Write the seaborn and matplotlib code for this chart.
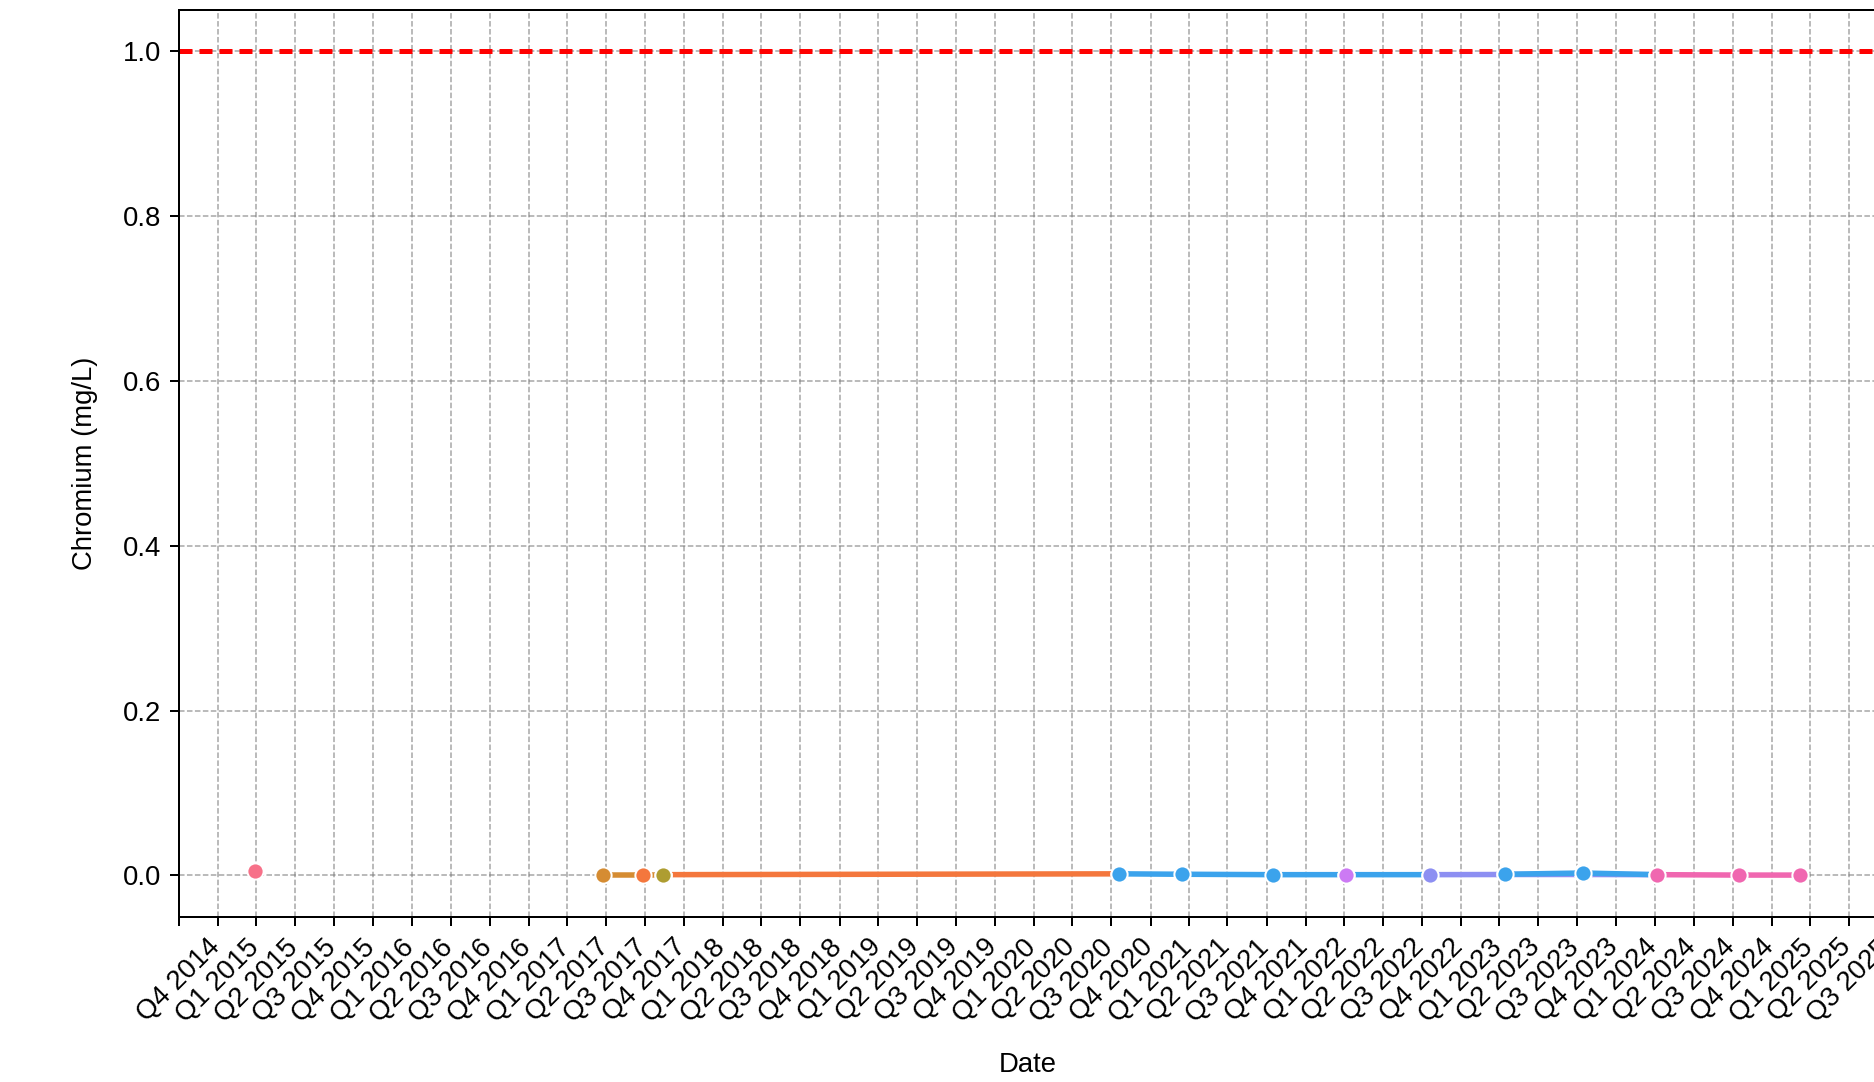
import pandas as pd
import matplotlib.pyplot as plt
import seaborn as sns

# hue groups in draw order (later groups sit on top)
groups = ['G1', 'G2', 'G3', 'G4', 'G5', 'G6', 'G7', 'G8', 'G9', 'G10', 'G11']
colors = ['#f77189', '#f4773d', '#d58c32', '#f4773d', '#ae9d31', '#3ba3ec',
          '#cc7af4', '#8d8ff2', '#c6e9f2', '#3ba3ec', '#f067b0']
dates = [
    ['2015-03-29'],
    ['2017-11-12', '2020-10-20'],
    ['2017-06-24', '2017-11-12'],
    ['2017-09-25'],
    ['2017-11-12'],
    ['2020-10-20', '2021-03-15', '2021-10-15', '2022-04-05', '2022-10-20'],
    ['2022-04-05'],
    ['2022-10-20', '2023-04-15', '2023-10-15', '2024-04-05'],
    ['2023-10-12'],
    ['2023-04-15', '2023-10-15', '2024-04-05'],
    ['2024-04-05', '2024-10-15', '2025-03-07'],
]
values = [
    [0.005],
    [0.001, 0.002],
    [0.001, 0.001],
    [0.001],
    [0.001],
    [0.002, 0.0015, 0.001, 0.001, 0.001],
    [0.001],
    [0.001, 0.0012, 0.0012, 0.001],
    [0.004],
    [0.0015, 0.003, 0.001],
    [0.001, 0.0005, 0.0005],
]
limit = 1.0

# quarterly tick positions and labels
quarters = pd.date_range('2014-10-01', '2025-10-01', freq='QS')
quarter_labels = [f"Q{d.quarter} {d.year}" for d in quarters]

rows = []
for g, ds, vs in zip(groups, dates, values):
    for d, v in zip(ds, vs):
        rows.append({'Date': pd.Timestamp(d), 'Chromium': v, 'Group': g})
df = pd.DataFrame(rows)

sns.set_style("ticks")
plt.rcParams['font.family'] = ['Liberation Sans', 'DejaVu Sans']
plt.rcParams['font.size'] = 11

fig = plt.figure(figsize=(1874 / 180, 1082 / 180), dpi=180)
ax = fig.add_axes([179 / 1874, 1 - 916.7 / 1082, 1698 / 1874, 906.7 / 1082])

sns.lineplot(data=df, x='Date', y='Chromium', hue='Group', hue_order=groups,
             palette=dict(zip(groups, colors)), marker='o', markersize=6.5,
             markeredgecolor='white', markeredgewidth=0.8, linewidth=2.2,
             legend=False, ax=ax)

ax.axhline(limit, color='red', linestyle=(0, (2.6, 1.4)), linewidth=2)

ax.set_xticks(quarters)
ax.set_xticklabels(quarter_labels, rotation=45, fontsize=11)
ax.set_yticks([0.0, 0.2, 0.4, 0.6, 0.8, 1.0])
ax.tick_params(axis='y', labelsize=11)
# limits after the ticks, since set_xticks widens the view
ax.set_xlim(pd.Timestamp('2014-10-01'), pd.Timestamp('2025-09-05'))
ax.set_ylim(-0.05, 1.05)

ax.grid(True, linestyle='--', linewidth=0.6, color='gray', alpha=0.7)
for s in ax.spines.values():
    s.set_color('black')
ax.tick_params(colors='black')

ax.set_xlabel('Date', color='black', fontsize=11, labelpad=10)
ax.set_ylabel('Chromium (mg/L)', color='black', fontsize=11, labelpad=10)

fig.savefig('out.png', dpi=180)
